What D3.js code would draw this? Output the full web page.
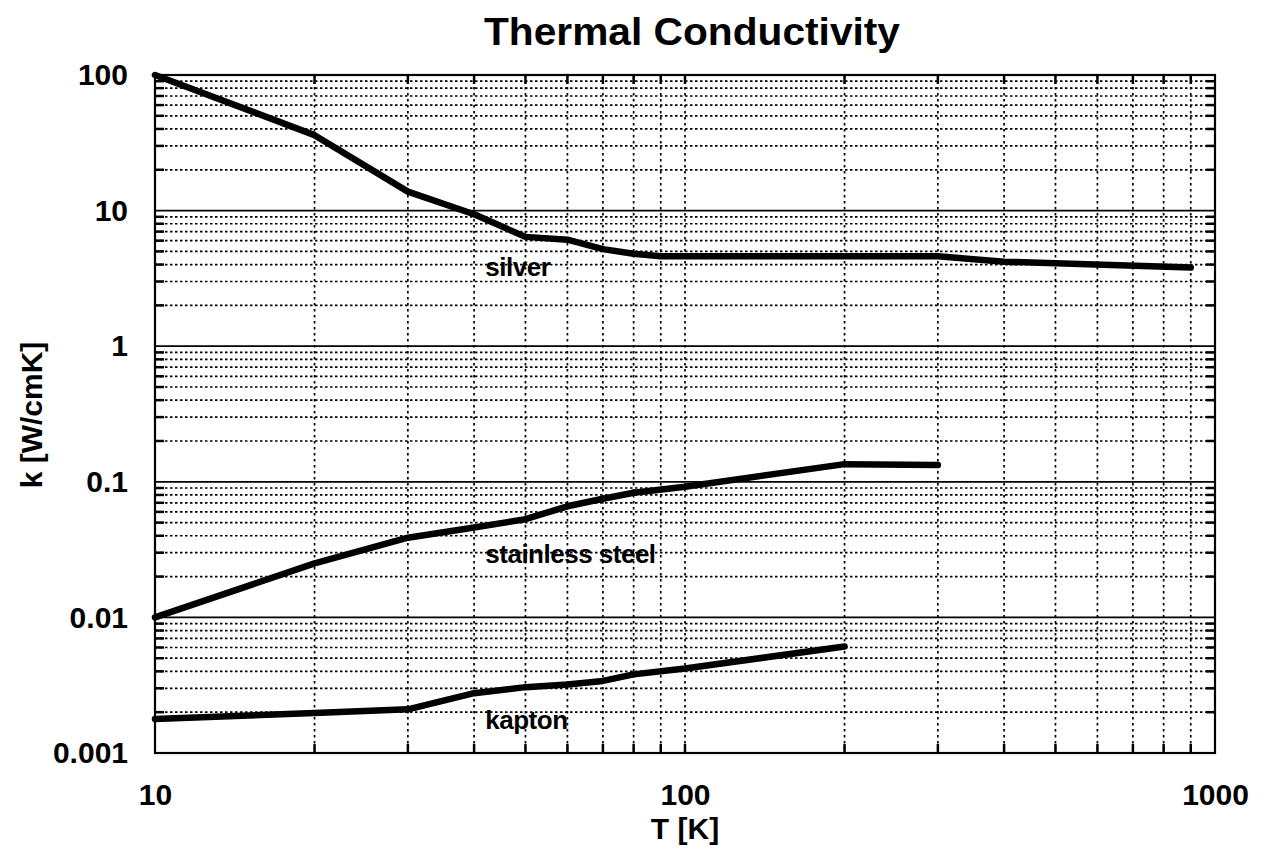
<!DOCTYPE html>
<html>
<head>
<meta charset="utf-8">
<script src="https://d3js.org/d3.v7.min.js"></script>
<style>
  html, body { margin: 0; padding: 0; background: #fff; }
  svg { display: block; }
  text { font-family: "Liberation Sans", Arial, Helvetica, sans-serif; fill: #000; }
</style>
</head>
<body>
<svg id="chart" width="1267" height="858"></svg>
<script>
// ---- data ----
const title = "Thermal  Conductivity";
const xLabel = "T [K]";
const yLabel = "k [W/cmK]";
const xTickValues = [10, 100, 1000];
const xTickLabels = ["10", "100", "1000"];
const yTickValues = [100, 10, 1, 0.1, 0.01, 0.001];
const yTickLabels = ["100", "10", "1", "0.1", "0.01", "0.001"];

const silverT = [10, 20, 30, 40, 50, 60, 70, 80, 90, 200, 300, 400, 900];
const silverK = [100, 36, 13.8, 9.4, 6.4, 6.1, 5.2, 4.8, 4.6, 4.6, 4.6, 4.2, 3.8];

const steelT = [10, 20, 30, 40, 50, 60, 70, 80, 100, 200, 300];
const steelK = [0.010, 0.025, 0.0387, 0.046, 0.053, 0.066, 0.075, 0.083, 0.092, 0.135, 0.133];

const kaptonT = [10, 20, 30, 40, 50, 60, 70, 80, 100, 200];
const kaptonK = [0.00178, 0.00197, 0.0021, 0.00276, 0.00306, 0.0032, 0.0034, 0.0038, 0.0042, 0.0061];

const seriesNames = ["silver", "stainless steel", "kapton"];
const labelAnchorT = [42, 42, 42];
const labelAnchorK = [3.3, 0.0254, 0.0015];

// ---- layout ----
const svg = d3.select("#chart");
const mLeft = 155, mRight = 1215, mTop = 75, mBottom = 753;

const x = d3.scaleLog().domain([10, 1000]).range([mLeft, mRight]);
const y = d3.scaleLog().domain([0.001, 100]).range([mBottom, mTop]);

const xMinor = [];
[10, 100].forEach(d => { for (let k = 2; k <= 9; k++) xMinor.push(k * d); });
const yMinor = [];
[0.001, 0.01, 0.1, 1, 10].forEach(d => { for (let k = 2; k <= 9; k++) yMinor.push(+(k * d).toPrecision(3)); });

const grid = svg.append("g");
grid.selectAll(".hm").data(yMinor).join("line")
  .attr("x1", mLeft).attr("x2", mRight)
  .attr("y1", d => y(d)).attr("y2", d => y(d))
  .attr("stroke", "#000").attr("stroke-width", 1.7)
  .attr("stroke-dasharray", "2.5,2.5");
grid.selectAll(".vm").data(xMinor.concat([100])).join("line")
  .attr("y1", mTop).attr("y2", mBottom)
  .attr("x1", d => x(d)).attr("x2", d => x(d))
  .attr("stroke", "#000").attr("stroke-width", 1.7)
  .attr("stroke-dasharray", "2.5,3.5");
grid.selectAll(".hM").data([10, 1, 0.1, 0.01]).join("line")
  .attr("x1", mLeft).attr("x2", mRight)
  .attr("y1", d => y(d)).attr("y2", d => y(d))
  .attr("stroke", "#000").attr("stroke-width", 1.7);

const tk = svg.append("g").attr("stroke", "#000").attr("stroke-width", 2.5);
tk.selectAll(".tl").data(yMinor).join("line")
  .attr("x1", mLeft).attr("x2", mLeft + 9).attr("y1", d => y(d)).attr("y2", d => y(d));
tk.selectAll(".tr").data(yMinor).join("line")
  .attr("x1", mRight).attr("x2", mRight - 9).attr("y1", d => y(d)).attr("y2", d => y(d));
tk.selectAll(".tt").data(xMinor.concat([100])).join("line")
  .attr("y1", mTop).attr("y2", mTop + 9).attr("x1", d => x(d)).attr("x2", d => x(d));
tk.selectAll(".tb").data(xMinor.concat([100])).join("line")
  .attr("y1", mBottom).attr("y2", mBottom - 9).attr("x1", d => x(d)).attr("x2", d => x(d));

svg.append("rect").attr("x", mLeft).attr("y", mTop)
  .attr("width", mRight - mLeft).attr("height", mBottom - mTop)
  .attr("fill", "none").attr("stroke", "#000").attr("stroke-width", 2.2);

const line = d3.line().x(d => x(d[0])).y(d => y(d[1]));
const series = [
  silverT.map((t, i) => [t, silverK[i]]),
  steelT.map((t, i) => [t, steelK[i]]),
  kaptonT.map((t, i) => [t, kaptonK[i]])
];
svg.append("g").selectAll("path").data(series).join("path")
  .attr("d", line)
  .attr("fill", "none").attr("stroke", "#000")
  .attr("stroke-width", 6.5).attr("stroke-linejoin", "round").attr("stroke-linecap", "round");

svg.append("g").selectAll("text").data(seriesNames).join("text")
  .attr("x", (d, i) => x(labelAnchorT[i]))
  .attr("y", (d, i) => y(labelAnchorK[i]))
  .attr("font-size", 26).attr("font-weight", "bold")
  .attr("letter-spacing", -0.5)
  .text(d => d);

const yAxis = d3.axisLeft(y).tickValues(yTickValues)
  .tickFormat((d, i) => yTickLabels[i]).tickSize(0).tickPadding(27);
const gy = svg.append("g").attr("transform", `translate(${mLeft},0)`).call(yAxis);
gy.select(".domain").remove();
gy.selectAll("text").attr("font-size", 30).attr("font-weight", "bold")
  .attr("font-family", "Liberation Sans, Arial, sans-serif").attr("fill", "#000");

const xAxis = d3.axisBottom(x).tickValues(xTickValues)
  .tickFormat((d, i) => xTickLabels[i]).tickSize(0).tickPadding(0);
const gx = svg.append("g").attr("transform", `translate(0,${mBottom})`).call(xAxis);
gx.select(".domain").remove();
gx.selectAll("text").attr("dy", null).attr("y", 52).attr("font-size", 30).attr("font-weight", "bold")
  .attr("font-family", "Liberation Sans, Arial, sans-serif").attr("fill", "#000");

svg.append("text").attr("x", 692).attr("y", 45).attr("text-anchor", "middle")
  .attr("font-size", 38).attr("font-weight", "bold")
  .attr("textLength", 416).attr("lengthAdjust", "spacingAndGlyphs").text(title);
svg.append("text").attr("x", 685).attr("y", 839).attr("text-anchor", "middle")
  .attr("font-size", 30).attr("font-weight", "bold").text(xLabel);
svg.append("text").attr("transform", "translate(42,415) rotate(-90)")
  .attr("text-anchor", "middle").attr("font-size", 30).attr("font-weight", "bold").text(yLabel);
</script>
</body>
</html>
